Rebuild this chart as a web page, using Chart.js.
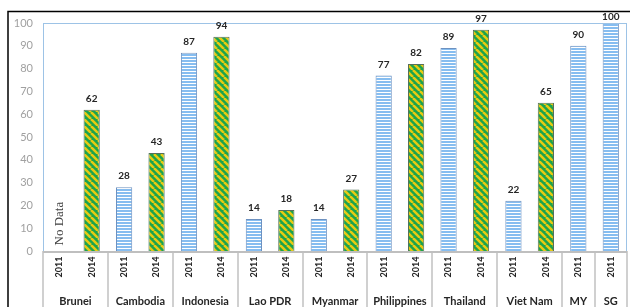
<!DOCTYPE html>
<html>
<head>
<meta charset="utf-8">
<script src="https://cdn.jsdelivr.net/npm/chart.js@4.4.1/dist/chart.umd.min.js"></script>
<style>
  html, body { margin: 0; padding: 0; background: #fff; }
  #wrap { width: 630px; height: 307px; position: relative; }
</style>
</head>
<body>
<div id="wrap"><canvas id="myChart" width="630" height="307"></canvas></div>
<script>
// one slot per bar, left to right
const yearLabels = ["2011", "2014", "2011", "2014", "2011", "2014", "2011", "2014", "2011", "2014",
  "2011", "2014", "2011", "2014", "2011", "2014", "2011", "2011"];
const values = [null, 62, 28, 43, 87, 94, 14, 18, 14, 27, 77, 82, 89, 97, 22, 65, 90, 100];
const countries = ["Brunei", "Cambodia", "Indonesia", "Lao PDR", "Myanmar", "Philippines", "Thailand", "Viet Nam", "MY", "SG"];
const countrySlots = [2, 2, 2, 2, 2, 2, 2, 2, 1, 1];
const yTicks = [0, 10, 20, 30, 40, 50, 60, 70, 80, 90, 100];
const noDataLabel = "No Data";

const FONT = "Lato, 'Open Sans', sans-serif";

function makeBluePattern() {
  const c = document.createElement("canvas");
  c.width = 4; c.height = 3;
  const g = c.getContext("2d");
  g.fillStyle = "#ffffff";
  g.fillRect(0, 0, 4, 3);
  g.fillStyle = "#86bdf0";
  g.fillRect(0, 0, 4, 2);
  return g.createPattern(c, "repeat");
}

function makeGreenPattern() {
  const s = 7;
  const c = document.createElement("canvas");
  c.width = s; c.height = s;
  const g = c.getContext("2d");
  g.fillStyle = "#1ba34e";
  g.fillRect(0, 0, s, s);
  g.strokeStyle = "#e9cb12";
  g.lineWidth = 2.5;
  for (let k = -1; k <= 1; k++) {
    g.beginPath();
    g.moveTo(k * s, 0);
    g.lineTo(k * s + s, s);
    g.stroke();
  }
  return g.createPattern(c, "repeat");
}

const bluePat = makeBluePattern();
const greenPat = makeGreenPattern();

const outerBox = {
  id: "outerBox",
  beforeDraw(chart) {
    const ctx = chart.ctx;
    ctx.save();
    ctx.strokeStyle = "#000";
    ctx.lineWidth = 1.5;
    ctx.strokeRect(8, 11.5, 640, 320);
    ctx.restore();
  }
};

const valueLabels = {
  id: "valueLabels",
  afterDraw(chart) {
    const ctx = chart.ctx;
    const meta = chart.getDatasetMeta(0);
    ctx.save();
    ctx.font = "bold 10px " + FONT;
    ctx.fillStyle = "#262626";
    ctx.textAlign = "center";
    ctx.textBaseline = "middle";
    meta.data.forEach((bar, i) => {
      if (values[i] == null) return;
      ctx.fillText(String(values[i]), bar.x, Math.max(bar.y - 11, 17));
    });
    ctx.restore();
  }
};

const frame = {
  id: "frame",
  afterDatasetsDraw(chart) {
    const ctx = chart.ctx;
    const area = chart.chartArea;
    const x = chart.scales.x;
    const y = chart.scales.y;
    const half = (x.getPixelForValue(1) - x.getPixelForValue(0)) / 2;
    ctx.save();

    // plot border
    ctx.strokeStyle = "#9dc3e6";
    ctx.lineWidth = 1;
    ctx.strokeRect(area.left + 0.5, area.top + 0.5, area.right - area.left - 1, area.bottom - area.top);

    // separators below axis
    ctx.strokeStyle = "#d0d0d0";
    ctx.lineWidth = 2;
    let slot = 0;
    const bounds = [0];
    countrySlots.forEach(n => { slot += n; bounds.push(slot); });
    bounds.forEach(b => {
      const px = Math.round(x.getPixelForValue(b) - half);
      ctx.beginPath();
      ctx.moveTo(px, area.bottom);
      ctx.lineTo(px, 310);
      ctx.stroke();
    });

    // axis line
    ctx.strokeStyle = "#bfbfbf";
    ctx.lineWidth = 2;
    ctx.beginPath();
    ctx.moveTo(area.left, area.bottom + 1);
    ctx.lineTo(area.right, area.bottom + 1);
    ctx.stroke();

    // year labels
    ctx.fillStyle = "#262626";
    ctx.font = "bold 9px " + FONT;
    ctx.textAlign = "center";
    ctx.textBaseline = "middle";
    yearLabels.forEach((lab, i) => {
      ctx.save();
      ctx.translate(x.getPixelForValue(i), area.bottom + 16);
      ctx.rotate(-Math.PI / 2);
      ctx.fillText(lab, 0, 0);
      ctx.restore();
    });

    // country labels
    ctx.font = "bold 11px " + FONT;
    countries.forEach((name, j) => {
      const a = x.getPixelForValue(bounds[j]) - half;
      const b = x.getPixelForValue(bounds[j + 1]) - half;
      ctx.fillText(name, (a + b) / 2, area.bottom + 50);
    });

    // No Data
    ctx.save();
    ctx.font = "13px 'Liberation Serif', 'DejaVu Serif', serif";
    ctx.fillStyle = "#404040";
    ctx.translate(x.getPixelForValue(0), y.getPixelForValue(12));
    ctx.rotate(-Math.PI / 2);
    ctx.fillText(noDataLabel, 0, 0);
    ctx.restore();

    ctx.restore();
  }
};

new Chart("myChart", {
  type: "bar",
  data: {
    labels: yearLabels,
    datasets: [{
      data: values,
      backgroundColor: yearLabels.map(l => l === "2011" ? bluePat : greenPat),
      borderColor: yearLabels.map(l => l === "2011" ? "#6d91c0" : "#56705a"),
      borderWidth: 1,
      barPercentage: 0.5,
      categoryPercentage: 1.0
    }]
  },
  options: {
    responsive: false,
    animation: false,
    layout: { padding: { left: 0, top: 23, right: 3, bottom: 56 } },
    plugins: { legend: { display: false }, tooltip: { enabled: false } },
    scales: {
      x: { display: false },
      y: {
        min: 0,
        max: 100,
        afterFit: s => { s.width = 43; },
        afterBuildTicks: s => { s.ticks = yTicks.map(v => ({ value: v })); },
        grid: { display: false, drawTicks: false },
        border: { display: false },
        ticks: { padding: 10, color: "#a0a0a0", font: { family: FONT, size: 11 } }
      }
    }
  },
  plugins: [outerBox, valueLabels, frame]
});
</script>
</body>
</html>
